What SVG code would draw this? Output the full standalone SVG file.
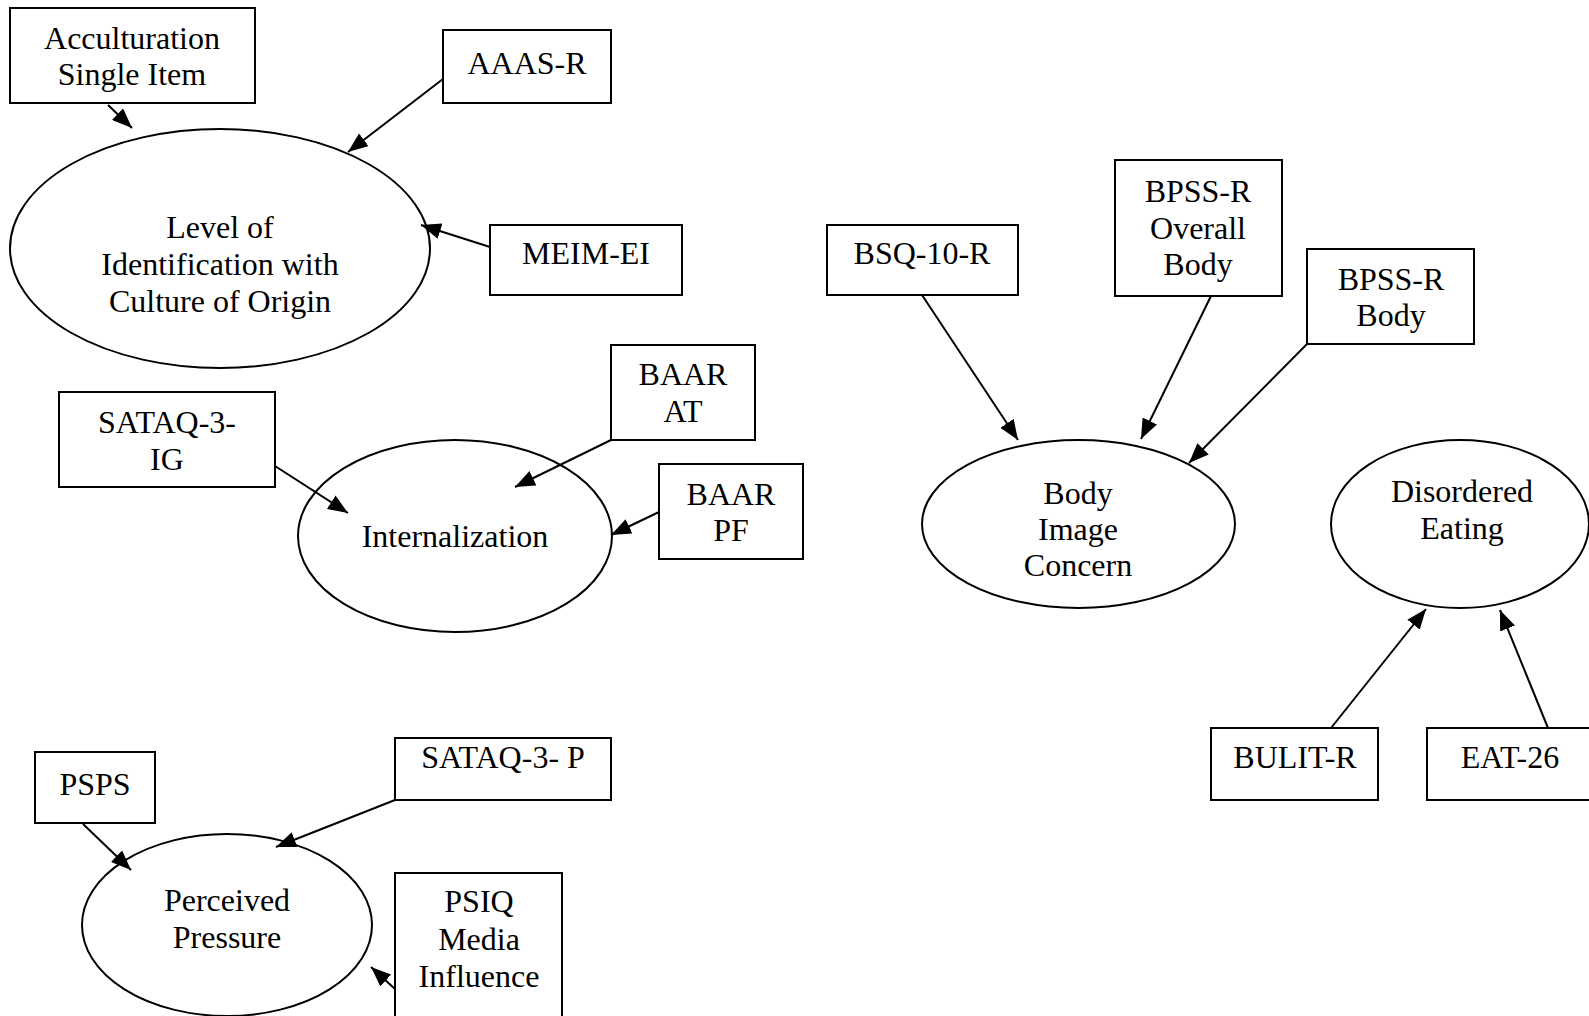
<svg xmlns="http://www.w3.org/2000/svg" width="1589" height="1016" viewBox="0 0 1589 1016">
  <style>
    .box { fill: #ffffff; stroke: #000000; stroke-width: 2; }
    .latent { fill: #ffffff; stroke: #000000; stroke-width: 2; }
    .lbl { font-family: "Liberation Serif", "Times New Roman", serif; font-size: 32px; fill: #000000; text-anchor: middle; }
    .edge { stroke: #000000; stroke-width: 2; fill: none; marker-end: url(#arrow); }
  </style>
  <defs>
    <marker id="arrow" markerUnits="userSpaceOnUse" markerWidth="20" markerHeight="16" refX="20" refY="8" orient="auto">
      <path d="M0,0 L20,8 L0,16 z" fill="#000000"/>
    </marker>
  </defs>
  <rect width="1589" height="1016" fill="#ffffff"/>

  <!-- latent constructs -->
  <g id="level-of-identification">
    <ellipse class="latent" cx="220" cy="248.5" rx="210" ry="119.5"/>
    <text class="lbl" x="220" y="238">Level of</text>
    <text class="lbl" x="220" y="275">Identification with</text>
    <text class="lbl" x="220" y="312">Culture of Origin</text>
  </g>
  <g id="internalization">
    <ellipse class="latent" cx="455" cy="536" rx="157" ry="96"/>
    <text class="lbl" x="455" y="547">Internalization</text>
  </g>
  <g id="perceived-pressure">
    <ellipse class="latent" cx="227" cy="925" rx="145" ry="91"/>
    <text class="lbl" x="227" y="911">Perceived</text>
    <text class="lbl" x="227" y="948">Pressure</text>
  </g>
  <g id="body-image-concern">
    <ellipse class="latent" cx="1078.5" cy="524" rx="156.5" ry="84"/>
    <text class="lbl" x="1078" y="504">Body</text>
    <text class="lbl" x="1078" y="540">Image</text>
    <text class="lbl" x="1078" y="576">Concern</text>
  </g>
  <g id="disordered-eating">
    <ellipse class="latent" cx="1460" cy="524" rx="129" ry="84"/>
    <text class="lbl" x="1462" y="502">Disordered</text>
    <text class="lbl" x="1462" y="539">Eating</text>
  </g>

  <!-- observed indicators -->
  <g id="acculturation-single-item">
    <rect class="box" x="10" y="8" width="245" height="95"/>
    <text class="lbl" x="132" y="49">Acculturation</text>
    <text class="lbl" x="132" y="85">Single Item</text>
  </g>
  <g id="aaas-r">
    <rect class="box" x="443" y="30" width="168" height="73"/>
    <text class="lbl" x="527" y="74">AAAS-R</text>
  </g>
  <g id="meim-ei">
    <rect class="box" x="490" y="225" width="192" height="70"/>
    <text class="lbl" x="586" y="264">MEIM-EI</text>
  </g>
  <g id="sataq-3-ig">
    <rect class="box" x="59" y="392" width="216" height="95"/>
    <text class="lbl" x="167" y="433">SATAQ-3-</text>
    <text class="lbl" x="167" y="470">IG</text>
  </g>
  <g id="baar-at">
    <rect class="box" x="611" y="345" width="144" height="95"/>
    <text class="lbl" x="683" y="385">BAAR</text>
    <text class="lbl" x="683" y="422">AT</text>
  </g>
  <g id="baar-pf">
    <rect class="box" x="659" y="464" width="144" height="95"/>
    <text class="lbl" x="731" y="505">BAAR</text>
    <text class="lbl" x="731" y="541">PF</text>
  </g>
  <g id="psps">
    <rect class="box" x="35" y="752" width="120" height="71"/>
    <text class="lbl" x="95" y="795">PSPS</text>
  </g>
  <g id="sataq-3-p">
    <rect class="box" x="395" y="738" width="216" height="62"/>
    <text class="lbl" x="503" y="768">SATAQ-3- P</text>
  </g>
  <g id="psiq-media-influence">
    <rect class="box" x="395" y="873" width="167" height="144"/>
    <text class="lbl" x="479" y="912">PSIQ</text>
    <text class="lbl" x="479" y="950">Media</text>
    <text class="lbl" x="479" y="987">Influence</text>
  </g>
  <g id="bsq-10-r">
    <rect class="box" x="827" y="225" width="191" height="70"/>
    <text class="lbl" x="922" y="264">BSQ-10-R</text>
  </g>
  <g id="bpss-r-overall-body">
    <rect class="box" x="1115" y="160" width="167" height="136"/>
    <text class="lbl" x="1198" y="202">BPSS-R</text>
    <text class="lbl" x="1198" y="239">Overall</text>
    <text class="lbl" x="1198" y="275">Body</text>
  </g>
  <g id="bpss-r-body">
    <rect class="box" x="1307" y="249" width="167" height="95"/>
    <text class="lbl" x="1391" y="290">BPSS-R</text>
    <text class="lbl" x="1391" y="326">Body</text>
  </g>
  <g id="bulit-r">
    <rect class="box" x="1211" y="728" width="167" height="72"/>
    <text class="lbl" x="1295" y="768">BULIT-R</text>
  </g>
  <g id="eat-26">
    <rect class="box" x="1427" y="728" width="170" height="72"/>
    <text class="lbl" x="1510" y="768">EAT-26</text>
  </g>

  <!-- loadings: indicator to construct -->
  <g id="connectors">
    <line class="edge" x1="108" y1="105" x2="132" y2="128"/>
    <line class="edge" x1="443" y1="79" x2="348" y2="152"/>
    <line class="edge" x1="490" y1="247" x2="421" y2="225"/>
    <line class="edge" x1="275" y1="466" x2="348" y2="513"/>
    <line class="edge" x1="611" y1="440" x2="515" y2="487"/>
    <line class="edge" x1="659" y1="512" x2="611" y2="535"/>
    <line class="edge" x1="83" y1="824" x2="131" y2="870"/>
    <line class="edge" x1="395" y1="800" x2="276" y2="847"/>
    <line class="edge" x1="395" y1="989" x2="371" y2="967"/>
    <line class="edge" x1="922" y1="295" x2="1018" y2="440"/>
    <line class="edge" x1="1211" y1="296" x2="1141" y2="439"/>
    <line class="edge" x1="1307" y1="344" x2="1189" y2="463"/>
    <line class="edge" x1="1331" y1="728" x2="1426" y2="609"/>
    <line class="edge" x1="1548" y1="728" x2="1500" y2="610"/>
  </g>
</svg>
